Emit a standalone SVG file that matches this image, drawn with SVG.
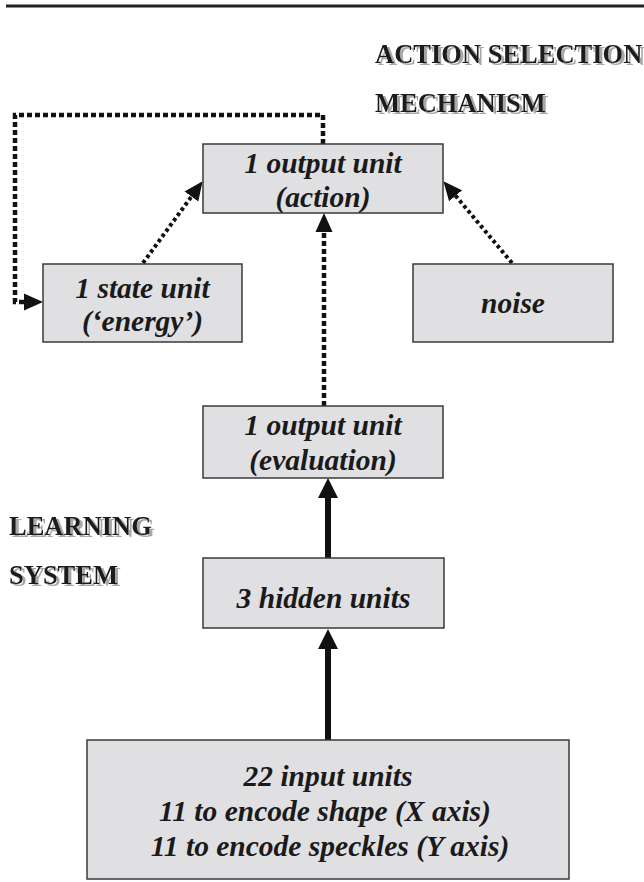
<svg xmlns="http://www.w3.org/2000/svg" width="644" height="882" viewBox="0 0 644 882">
<style>
.box{fill:#e0e0e2;stroke:#3a3a3a;stroke-width:1.5}
.t{font-family:"Liberation Serif","Times New Roman",serif;font-style:italic;font-weight:bold;font-size:29.5px;fill:#1a1a1a;text-anchor:middle}
.h{font-family:"Liberation Serif","Times New Roman",serif;font-weight:bold;font-size:26.5px;fill:#1a1a1a;filter:url(#sh)}
.dot{fill:none;stroke:#111;stroke-width:4.5;stroke-dasharray:5 3}
.dd{fill:none;stroke:#111;stroke-width:4;stroke-dasharray:3.5 3}
.sol{fill:none;stroke:#111;stroke-width:6}
</style>
<defs>
<filter id="sh" x="-5%" y="-20%" width="115%" height="150%">
<feOffset in="SourceAlpha" dx="3" dy="2" result="o"/>
<feGaussianBlur in="o" stdDeviation="0.5" result="b"/>
<feFlood flood-color="#a8a8a8"/>
<feComposite in2="b" operator="in" result="s"/>
<feMerge><feMergeNode in="s"/><feMergeNode in="SourceGraphic"/></feMerge>
</filter>
<marker id="as" viewBox="0 -10 20 20" refX="0" refY="0" markerWidth="20" markerHeight="20" markerUnits="userSpaceOnUse" orient="auto">
<path d="M0,-10 L20,0 L0,10 z" fill="#111"/>
</marker>
<marker id="ad" viewBox="0 -9 19 18" refX="0" refY="0" markerWidth="19" markerHeight="18" markerUnits="userSpaceOnUse" orient="auto">
<path d="M0,-8.5 L19,0 L0,8.5 z" fill="#111"/>
</marker>
</defs>
<line x1="6" y1="6" x2="644" y2="6" stroke="#222" stroke-width="3"/>
<g id="label-asm">
<text class="h" x="375" y="63">ACTION SELECTION</text>
<text class="h" x="375" y="112">MECHANISM</text>
</g>
<g id="label-ls">
<text class="h" x="9" y="535">LEARNING</text>
<text class="h" x="9" y="584">SYSTEM</text>
</g>
<g id="connectors">
<path class="dot" d="M323,144 V115 H15 V302 H24" marker-end="url(#ad)"/>
<path class="dd" d="M143,263 L191.4,196.6" marker-end="url(#ad)"/>
<path class="dd" d="M512,263 L455.6,195.8" marker-end="url(#ad)"/>
<path class="dot" d="M324,406 V232" marker-end="url(#ad)"/>
<path class="sol" d="M328,558 V498" marker-end="url(#as)"/>
<path class="sol" d="M328,740 V649" marker-end="url(#as)"/>
</g>
<g id="action">
<rect class="box" x="203" y="144" width="240" height="69"/>
<text class="t" x="323" y="173">1 output unit</text>
<text class="t" x="323" y="207">(action)</text>
</g>
<g id="state">
<rect class="box" x="43" y="264" width="199" height="78"/>
<text class="t" x="142.5" y="298">1 state unit</text>
<text class="t" x="142.5" y="331">(‘energy’)</text>
</g>
<g id="noise">
<rect class="box" x="413" y="264" width="200" height="78"/>
<text class="t" x="513" y="313">noise</text>
</g>
<g id="evaluation">
<rect class="box" x="203" y="406" width="240" height="72"/>
<text class="t" x="323" y="435">1 output unit</text>
<text class="t" x="323" y="470">(evaluation)</text>
</g>
<g id="hidden">
<rect class="box" x="203" y="558" width="241" height="70"/>
<text class="t" x="323.5" y="608">3 hidden units</text>
</g>
<g id="input">
<rect class="box" x="87" y="740" width="482" height="139"/>
<text class="t" x="328" y="786">22 input units</text>
<text class="t" x="325" y="821">11 to encode shape (X axis)</text>
<text class="t" x="330" y="856">11 to encode speckles (Y axis)</text>
</g>
</svg>
